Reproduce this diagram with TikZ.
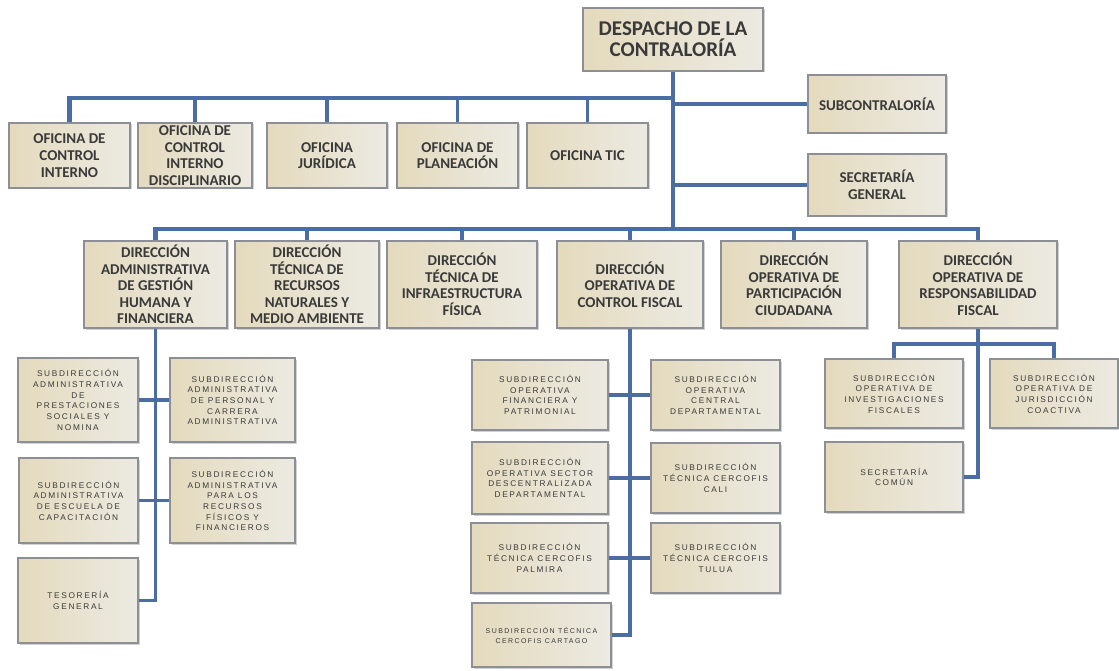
\documentclass[tikz,border=0pt]{standalone}
\usepackage{fontspec}
\setmainfont{Carlito}
\newfontfamily\subfont[LetterSpace=20]{Liberation Sans}
\usetikzlibrary{shadows}
\definecolor{azul}{HTML}{4A6EA3}
\definecolor{borde}{HTML}{8C8F96}
\definecolor{texto}{HTML}{3A3A3A}
\definecolor{beigeA}{HTML}{E4DABD}
\definecolor{beigeB}{HTML}{ECEAE2}

\begin{document}
\begin{tikzpicture}[x=1pt, y=-1pt]
\tikzstyle{every node}=[font=\bfseries\fontsize{15}{16.5}\selectfont, text=texto, align=center, inner sep=0pt]
\tikzstyle{caja}=[draw=borde, line width=1.2pt, left color=beigeA, right color=beigeB, drop shadow={shadow xshift=1.5pt, shadow yshift=-1.5pt, fill=black!35}]
\tikzstyle{sub}=[caja, font=\subfont\fontsize{8.3}{10.7}\selectfont]
\tikzstyle{linea}=[draw=azul, line width=3.2pt]
\tikzstyle{tronco}=[linea, line width=4.5pt]

\fill[white] (0, 0) rectangle (1119, 671);
\useasboundingbox (0, 0) rectangle (1119, 671);

\coordinate (busA) at (0, 98);
\coordinate (busB) at (0, 229);
\coordinate (busC) at (0, 344);

% despacho
\node [caja, minimum width=180, minimum height=63, font=\bfseries\fontsize{21}{21}\selectfont] (desp) at (673, 39.5) {DESPACHO DE LA\\CONTRALORÍA};
\node [caja, minimum width=138, minimum height=58] (subc) at (877, 104) {SUBCONTRALORÍA};
\node [caja, minimum width=138, minimum height=62] (secg) at (877, 185) {SECRETARÍA\\GENERAL};

% oficinas
\node [caja, minimum width=121, minimum height=65, font=\bfseries\fontsize{15}{17}\selectfont] (ofci) at (69.5, 155.5) {OFICINA DE\\CONTROL\\INTERNO};
\node [caja, minimum width=114, minimum height=65] (ofcid) at (195, 155.5) {OFICINA DE\\CONTROL\\INTERNO\\DISCIPLINARIO};
\node [caja, minimum width=120, minimum height=65] (ofj) at (327, 155.5) {OFICINA\\JURÍDICA};
\node [caja, minimum width=121, minimum height=65] (ofp) at (457.5, 155.5) {OFICINA DE\\PLANEACIÓN};
\node [caja, minimum width=121, minimum height=65] (oftic) at (587.5, 155.5) {OFICINA TIC};

% direcciones
\node [caja, minimum width=143, minimum height=87] (dagh) at (155.5, 284.5) {DIRECCIÓN\\ADMINISTRATIVA\\DE GESTIÓN\\HUMANA Y\\FINANCIERA};
\node [caja, minimum width=144, minimum height=87] (dtrn) at (307, 284.5) {DIRECCIÓN\\TÉCNICA DE\\RECURSOS\\NATURALES Y\\MEDIO AMBIENTE};
\node [caja, minimum width=150, minimum height=87] (dtif) at (462, 284.5) {DIRECCIÓN\\TÉCNICA DE\\INFRAESTRUCTURA\\FÍSICA};
\node [caja, minimum width=146, minimum height=87] (docf) at (630, 284.5) {DIRECCIÓN\\OPERATIVA DE\\CONTROL FISCAL};
\node [caja, minimum width=146, minimum height=87] (dopc) at (794, 284.5) {DIRECCIÓN\\OPERATIVA DE\\PARTICIPACIÓN\\CIUDADANA};
\node [caja, minimum width=158, minimum height=87] (dorf) at (978, 284.5) {DIRECCIÓN\\OPERATIVA DE\\RESPONSABILIDAD\\FISCAL};

% subdirecciones administrativas
\node [sub, minimum width=120, minimum height=84] (sapsn) at (78, 400) {SUBDIRECCIÓN\\ADMINISTRATIVA\\DE\\PRESTACIONES\\SOCIALES Y\\NOMINA};
\node [sub, minimum width=125, minimum height=84] (sapca) at (232.5, 400) {SUBDIRECCIÓN\\ADMINISTRATIVA\\DE PERSONAL Y\\CARRERA\\ADMINISTRATIVA};
\node [sub, minimum width=119, minimum height=85] (saec) at (78.5, 500.5) {SUBDIRECCIÓN\\ADMINISTRATIVA\\DE ESCUELA DE\\CAPACITACIÓN};
\node [sub, minimum width=125, minimum height=85] (sarf) at (232.5, 500.5) {SUBDIRECCIÓN\\ADMINISTRATIVA\\PARA LOS\\RECURSOS\\FÍSICOS Y\\FINANCIEROS};
\node [sub, minimum width=120, minimum height=85] (tesg) at (78, 600.5) {TESORERÍA\\GENERAL};

% subdirecciones control fiscal
\node [sub, minimum width=136, minimum height=70] (sofp) at (540, 395) {SUBDIRECCIÓN\\OPERATIVA\\FINANCIERA Y\\PATRIMONIAL};
\node [sub, minimum width=129, minimum height=70] (socd) at (715.5, 395) {SUBDIRECCIÓN\\OPERATIVA\\CENTRAL\\DEPARTAMENTAL};
\node [sub, minimum width=136, minimum height=72] (sosd) at (540, 478) {SUBDIRECCIÓN\\OPERATIVA SECTOR\\DESCENTRALIZADA\\DEPARTAMENTAL};
\node [sub, minimum width=129, minimum height=70] (stcc) at (715.5, 478) {SUBDIRECCIÓN\\TÉCNICA CERCOFIS\\CALI};
\node [sub, minimum width=137, minimum height=70] (stcp) at (539.5, 558) {SUBDIRECCIÓN\\TÉCNICA CERCOFIS\\PALMIRA};
\node [sub, minimum width=129, minimum height=70] (stct) at (715.5, 558) {SUBDIRECCIÓN\\TÉCNICA CERCOFIS\\TULUA};
\node [sub, minimum width=139, minimum height=64, font=\subfont\fontsize{7}{10}\selectfont] (stcca) at (541.5, 635) {SUBDIRECCIÓN TÉCNICA\\CERCOFIS CARTAGO};

% subdirecciones responsabilidad fiscal
\node [sub, minimum width=138, minimum height=69] (soif) at (894, 393.5) {SUBDIRECCIÓN\\OPERATIVA DE\\INVESTIGACIONES\\FISCALES};
\node [sub, minimum width=128, minimum height=69] (sojc) at (1054, 393.5) {SUBDIRECCIÓN\\OPERATIVA DE\\JURISDICCIÓN\\COACTIVA};
\node [sub, minimum width=138, minimum height=70] (secc) at (894, 477) {SECRETARÍA\\COMÚN};

% conectores
\draw [tronco] (desp.south) -- (desp.south |- busB);
\draw [tronco] (ofci.north) -- (ofci.north |- busA) -- (desp.south |- busA);
\foreach \n in {ofcid, ofj, ofp, oftic}
  \draw [linea] (\n.north) -- (\n.north |- busA);
\draw [linea] (subc.west) -- (subc.west -| desp.south);
\draw [linea] (secg.west) -- (secg.west -| desp.south);

\draw [tronco] (dagh.north) -- (dagh.north |- busB) -- (dorf.north |- busB) -- (dorf.north);
\foreach \n in {dtrn, dtif, docf, dopc}
  \draw [linea] (\n.north) -- (\n.north |- busB);

\draw [linea] (dagh.south) -- (dagh.south |- tesg.east) -- (tesg.east);
\draw [linea] (sapsn.east) -- (sapca.west);
\draw [linea] (saec.east) -- (sarf.west);

\draw [linea] (docf.south) -- (docf.south |- stcca.east) -- (stcca.east);
\draw [linea] (sofp.east) -- (socd.west);
\draw [linea] (sosd.east) -- (stcc.west);
\draw [linea] (stcp.east) -- (stct.west);

\draw [linea] (dorf.south) -- (dorf.south |- busC);
\draw [linea] (soif.north) -- (soif.north |- busC) -- (sojc.north |- busC) -- (sojc.north);
\draw [linea] (dorf.south |- busC) -- (dorf.south |- secc.east) -- (secc.east);

\end{tikzpicture}
\end{document}
